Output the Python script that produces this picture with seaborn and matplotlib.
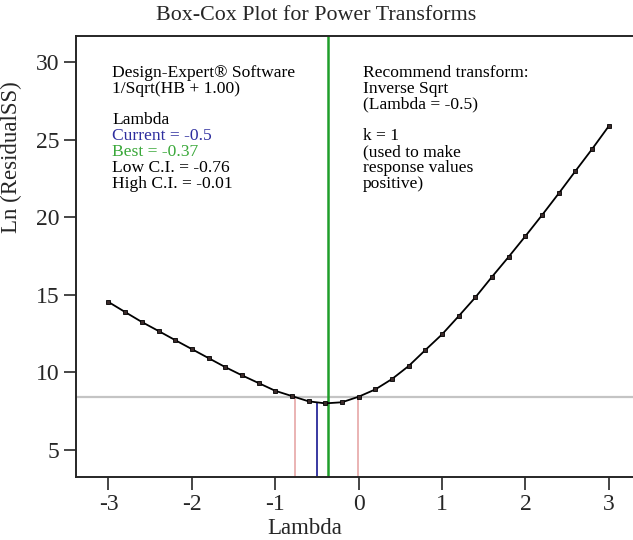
import numpy as np
import pandas as pd
import matplotlib
matplotlib.use("Agg")
import matplotlib.pyplot as plt
import seaborn as sns

# Box-Cox values
lam = [-3.0, -2.8, -2.6, -2.4, -2.2, -2.0, -1.8, -1.6, -1.4, -1.2, -1.0,
       -0.8, -0.6, -0.4, -0.2, 0.0, 0.2, 0.4, 0.6, 0.8, 1.0,
       1.2, 1.4, 1.6, 1.8, 2.0, 2.2, 2.4, 2.6, 2.8, 3.0]
ln_ss = [14.52, 13.87, 13.23, 12.65, 12.06, 11.48, 10.90, 10.32, 9.79, 9.29, 8.79,
         8.45, 8.11, 7.98, 8.05, 8.41, 8.88, 9.55, 10.39, 11.42, 12.43,
         13.61, 14.82, 16.15, 17.44, 18.77, 20.13, 21.53, 22.97, 24.39, 25.87]
current = -0.5
best = -0.37
low_ci = -0.76
high_ci = -0.01
ci_level = 8.39

left_lines = [("Design-Expert\u00ae Software", "black"), ("1/Sqrt(HB + 1.00)", "black"), (None, None),
              ("Lambda", "black"), ("Current = -0.5", "#2e2e9e"), ("Best = -0.37", "#3aa83a"),
              ("Low C.I. = -0.76", "black"), ("High C.I. = -0.01", "black")]
right_lines = ["Recommend transform:", "Inverse Sqrt", "(Lambda = -0.5)", None,
               "k = 1", "(used to make", "response values", "positive)"]

sns.set_style("ticks")
plt.rcParams['font.family'] = ['Liberation Serif', 'DejaVu Serif']
plt.rcParams['axes.unicode_minus'] = False

df = pd.DataFrame({"lambda": lam, "lnss": ln_ss})

fig = plt.figure(figsize=(6.33, 5.4), dpi=100)
ax = fig.add_axes([0.120, 0.1167, 0.880, 0.8166])

# reference lines
ax.axhline(ci_level, color="#c4c4c4", lw=1.6, zorder=1)
ax.axvline(best, color="#1f9e2a", lw=1.8, zorder=2)
cur_y = np.interp(current, lam, ln_ss)
ax.vlines(current, 0, cur_y, color="#2a2a9a", lw=1.3, zorder=2)
ax.vlines([low_ci, high_ci], 0, ci_level, color="#e8aeae", lw=1.3, zorder=2)

sns.lineplot(data=df, x="lambda", y="lnss", ax=ax, color="black", lw=1.3,
             marker="s", markersize=3.3, markerfacecolor="#3a2a2a",
             markeredgecolor="black", markeredgewidth=0.6, zorder=3)

ax.set_xlim(-3.39, 3.29)
ax.set_ylim(3.23, 31.68)
ax.set_xticks([-3, -2, -1, 0, 1, 2, 3])
ax.set_yticks([5, 10, 15, 20, 25, 30])
ax.tick_params(axis="both", labelsize=17, length=9, width=1.2, direction="out", pad=3)
for s in ["left", "bottom", "top"]:
    ax.spines[s].set_linewidth(1.4)
ax.spines["right"].set_visible(False)

ax.set_xlabel("Lambda", fontsize=16.5, labelpad=0)
ax.set_ylabel("Ln (ResidualSS)", fontsize=16.5)
ax.xaxis.set_label_coords(0.41, -0.094)
ax.yaxis.set_label_coords(-0.097, 0.726)

fig.text(0.5, 0.972, "Box-Cox Plot for Power Transforms", ha="center", va="center", fontsize=15.8)

# annotation blocks
y0 = (477 - 73) / 441
dy = 15.8 / 441
for i, (txt, col) in enumerate(left_lines):
    if txt:
        ax.text(0.065, y0 - i * dy, txt, color=col, fontsize=12.6, transform=ax.transAxes,
                ha="left", va="center")
for i, txt in enumerate(right_lines):
    if txt:
        ax.text(0.515, y0 - i * dy, txt, color="black", fontsize=12.6, transform=ax.transAxes,
                ha="left", va="center")

plt.savefig("out.png", dpi=100)
plt.close()
